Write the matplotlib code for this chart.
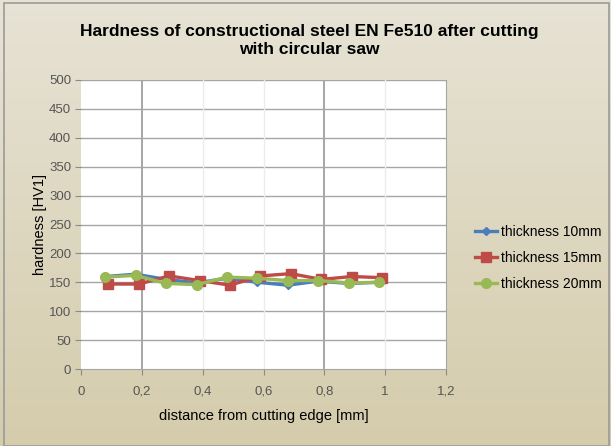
import matplotlib
matplotlib.use("Agg")
import matplotlib.pyplot as plt
import numpy as np
from matplotlib.patches import Rectangle

x_blue = [0.08, 0.18, 0.28, 0.38, 0.48, 0.58, 0.68, 0.78, 0.88, 0.98]
y_blue = [160, 164, 155, 149, 157, 150, 145, 152, 148, 150]
x_red = [0.09, 0.19, 0.29, 0.39, 0.49, 0.59, 0.69, 0.79, 0.89, 0.99]
y_red = [147, 147, 161, 153, 145, 161, 165, 155, 160, 158]
x_green = [0.08, 0.18, 0.28, 0.38, 0.48, 0.58, 0.68, 0.78, 0.88, 0.98]
y_green = [159, 162, 148, 146, 159, 157, 153, 153, 149, 150]

x_ticks = [0, 0.2, 0.4, 0.6, 0.8, 1.0, 1.2]
x_tick_labels = ["0", "0,2", "0,4", "0,6", "0,8", "1", "1,2"]
y_ticks = list(range(0, 501, 50))

plt.rcParams['font.family'] = ['Liberation Sans', 'DejaVu Sans']

fig = plt.figure(figsize=(6.11, 4.46), dpi=100)

# background gradient
bg = fig.add_axes([0, 0, 1, 1], zorder=-10)
grad = np.linspace(0, 1, 256).reshape(-1, 1)
c_top = np.array([0.905, 0.890, 0.835])
c_bot = np.array([0.835, 0.800, 0.675])
img = c_top[None, None, :] * (1 - grad[:, :, None]) + c_bot[None, None, :] * grad[:, :, None]
bg.imshow(img, aspect='auto', extent=[0, 1, 0, 1], origin='upper')
bg.set_axis_off()
fig.patches.append(Rectangle((0.006, 0.0), 0.99, 0.994, transform=fig.transFigure,
                             fill=False, edgecolor='#9a9a9a', linewidth=1.2))

ax = fig.add_axes([81 / 611, 1 - 369 / 446, (446 - 81) / 611, (369 - 80) / 446])
ax.set_facecolor('white')
ax.set_xlim(0, 1.2)
ax.set_ylim(0, 500)

# grid
for yv in y_ticks[1:]:
    ax.axhline(yv, color='#a6a6a6', linewidth=1.0, zorder=1)
for xv in [0.4, 0.6, 1.0]:
    ax.axvline(xv, color='#ececec', linewidth=1.0, zorder=1)
for xv in [0.2, 0.8]:
    ax.axvline(xv, color='#a6a6a6', linewidth=1.4, zorder=1)

ax.plot(x_blue, y_blue, color='#4a7ebb', linewidth=2.4, marker='D', markersize=4,
        label='thickness 10mm', zorder=3)
ax.plot(x_red, y_red, color='#be4b48', linewidth=2.4, marker='s', markersize=7,
        label='thickness 15mm', zorder=4)
ax.plot(x_green, y_green, color='#98b954', linewidth=2.4, marker='o', markersize=7,
        label='thickness 20mm', zorder=5)

ax.set_xticks(x_ticks)
ax.set_xticklabels(x_tick_labels)
ax.set_yticks(y_ticks)
ax.tick_params(axis='both', labelsize=9.5, colors='#8a8a8a', length=4, width=0.8,
               labelcolor='#555555')
ax.tick_params(axis='x', pad=8)
ax.tick_params(axis='y', pad=3)
for side in ['top', 'left']:
    ax.spines[side].set_visible(False)
ax.spines['bottom'].set_color('#a6a6a6')
ax.spines['right'].set_color('#a6a6a6')

ax.set_xlabel('distance from cutting edge [mm]', fontsize=10.5, labelpad=8)
ax.set_ylabel('hardness [HV1]', fontsize=10.5)
ax.yaxis.set_label_coords(-34 / 365, 0.5)

fig.text(0.507, 0.91, 'Hardness of constructional steel EN Fe510 after cutting\nwith circular saw',
         ha='center', va='center', fontsize=12.5, fontweight='bold', linespacing=1.25)

leg = ax.legend(loc='center left', bbox_to_anchor=(1.045, 0.385), frameon=False,
                fontsize=10, handlelength=1.6, labelspacing=0.85, handletextpad=0.3)

fig.savefig('out.png', dpi=100)
